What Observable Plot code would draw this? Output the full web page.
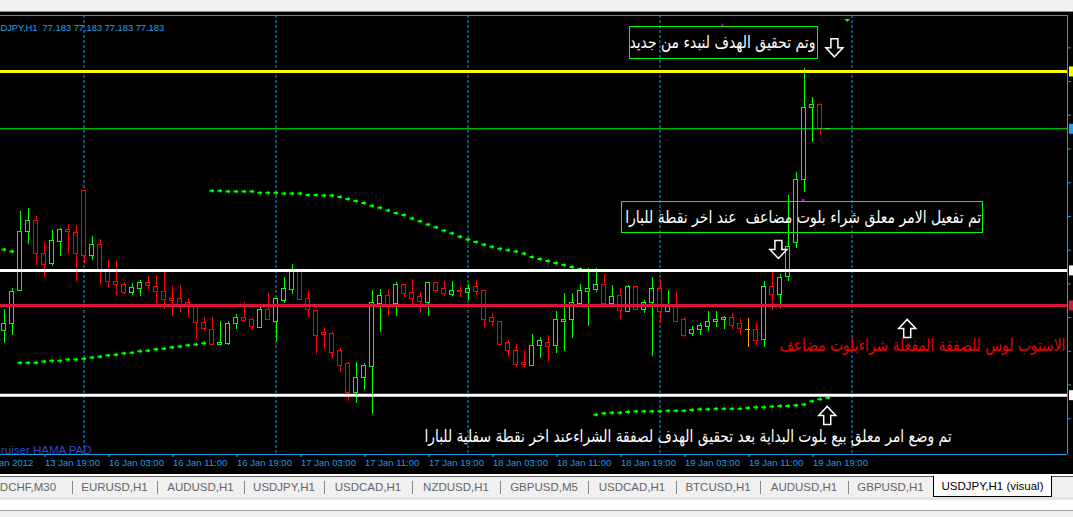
<!DOCTYPE html>
<html>
<head>
<meta charset="utf-8">
<script src="https://cdn.jsdelivr.net/npm/d3@7"></script>
<script src="https://cdn.jsdelivr.net/npm/@observablehq/plot@0.6"></script>
<style>
  html, body { margin: 0; padding: 0; width: 1073px; height: 517px; overflow: hidden; background: #f0f0f0; }
  #titlebar { position: absolute; left: 0; top: 0; width: 1073px; height: 11px; background: #f0f0f0; border-bottom: 1px solid #8c8c8c; }
  #chart { position: absolute; left: 0; top: 12px; width: 1073px; height: 462px; background: #000; }
  #chart svg { display: block; }
  #tabs { position: absolute; left: 0; top: 474px; width: 1073px; height: 43px; background: #f0f0f0; font-family: "Liberation Sans", Arial, sans-serif; }
  #tabs .edge1 { position: absolute; left: 0; top: 0; width: 1073px; height: 2px; background: #ffffff; }
  #tabs .edge2 { position: absolute; left: 0; top: 2px; width: 1073px; height: 1px; background: #5a5a5a; }
  #tabs .row { position: absolute; left: 0; top: 3px; width: 1073px; height: 20px; background: #f0f0f0; }
  #tabs .under { position: absolute; left: 0; top: 23px; width: 1073px; height: 3px; background: #e4e4e4; }
  #tabs .white { position: absolute; left: 0; top: 26px; width: 1073px; height: 10px; background: #ffffff; border-bottom: 1px solid #a8a8a8; }
  #tabs .tab { position: absolute; top: 3px; height: 20px; line-height: 20px; font-size: 11.5px; color: #666; text-align: center; white-space: nowrap; }
  #tabs .sep { position: absolute; top: 7px; width: 1px; height: 13px; background: #8a8a8a; }
  #tabs .active { position: absolute; top: 2px; height: 20px; line-height: 20px; font-size: 11.5px; color: #000; background: #fff; border: 1px solid #000; border-top: none; text-align: center; white-space: nowrap; }
</style>
</head>
<body>
<div id="titlebar"></div>
<div id="chart"></div>
<div id="tabs">
  <div class="edge1"></div><div class="edge2"></div><div class="row"></div><div class="under"></div><div class="white"></div>
</div>
<script>
// USDJPY H1 candles, bar 0 = 13 Jan 2012 14:00; last bar just opened.
const open = [76.883, 76.893, 76.942, 77.030, 77.047, 76.998, 76.982, 77.015, 77.033, 77.029,
  77.091, 76.994, 77.011, 76.970, 76.956, 76.952, 76.939, 76.946, 76.955, 76.949,
  76.941, 76.930, 76.930, 76.924, 76.919, 76.895, 76.885, 76.863, 76.864, 76.893,
  76.903, 76.899, 76.888, 76.914, 76.896, 76.928, 76.944, 76.971, 76.930, 76.913,
  76.880, 76.878, 76.853, 76.834, 76.791, 76.813, 76.830, 76.923, 76.935, 76.923,
  76.951, 76.939, 76.933, 76.925, 76.954, 76.945, 76.936, 76.943, 76.939, 76.948,
  76.942, 76.902, 76.897, 76.865, 76.854, 76.835, 76.831, 76.861, 76.866, 76.861,
  76.897, 76.899, 76.923, 76.941, 76.944, 76.952, 76.923, 76.935, 76.912, 76.949,
  76.914, 76.924, 76.946, 76.912, 76.921, 76.899, 76.878, 76.884, 76.889, 76.896,
  76.900, 76.903, 76.894, 76.885, 76.884, 76.870, 76.949, 76.936, 76.963, 77.013,
  77.107, 77.214, 77.218, 77.183];
const high = [76.915, 76.946, 77.060, 77.065, 77.053, 77.014, 77.032, 77.035, 77.041, 77.040,
  77.091, 77.023, 77.019, 76.988, 76.986, 76.955, 76.953, 76.958, 76.964, 76.966,
  76.970, 76.949, 76.951, 76.932, 76.919, 76.903, 76.903, 76.897, 76.897, 76.908,
  76.926, 76.902, 76.919, 76.939, 76.930, 76.963, 76.982, 76.973, 76.943, 76.913,
  76.888, 76.881, 76.857, 76.836, 76.837, 76.835, 76.943, 76.945, 76.945, 76.955,
  76.952, 76.960, 76.940, 76.955, 76.955, 76.957, 76.957, 76.949, 76.952, 76.958,
  76.942, 76.909, 76.897, 76.869, 76.863, 76.854, 76.878, 76.873, 76.877, 76.912,
  76.939, 76.939, 76.952, 76.976, 76.976, 76.967, 76.951, 76.946, 76.951, 76.949,
  76.929, 76.963, 76.960, 76.943, 76.942, 76.903, 76.890, 76.894, 76.912, 76.912,
  76.905, 76.909, 76.901, 76.901, 76.896, 76.956, 76.970, 76.967, 77.084, 77.118,
  77.273, 77.229, 77.221, 77.183];
const low = [76.864, 76.877, 76.941, 77.012, 76.980, 76.963, 76.979, 76.993, 76.997, 76.957,
  76.983, 76.987, 76.950, 76.948, 76.936, 76.937, 76.936, 76.935, 76.943, 76.924,
  76.915, 76.905, 76.911, 76.901, 76.871, 76.882, 76.862, 76.863, 76.862, 76.886,
  76.896, 76.884, 76.888, 76.899, 76.867, 76.924, 76.937, 76.928, 76.902, 76.848,
  76.856, 76.842, 76.821, 76.778, 76.776, 76.795, 76.760, 76.881, 76.904, 76.904,
  76.933, 76.923, 76.911, 76.905, 76.941, 76.936, 76.934, 76.933, 76.929, 76.936,
  76.889, 76.890, 76.862, 76.844, 76.829, 76.829, 76.831, 76.843, 76.836, 76.850,
  76.852, 76.872, 76.921, 76.890, 76.940, 76.923, 76.921, 76.900, 76.911, 76.914,
  76.909, 76.846, 76.894, 76.912, 76.897, 76.874, 76.875, 76.877, 76.883, 76.889,
  76.885, 76.886, 76.877, 76.859, 76.862, 76.859, 76.914, 76.916, 76.957, 77.005,
  77.089, 77.162, 77.173, 77.183];
const close = [76.894, 76.941, 77.030, 77.047, 76.998, 76.981, 77.016, 77.033, 77.030, 76.997,
  76.995, 77.011, 76.974, 76.956, 76.952, 76.939, 76.947, 76.955, 76.950, 76.941,
  76.929, 76.928, 76.922, 76.922, 76.895, 76.886, 76.862, 76.865, 76.894, 76.903,
  76.898, 76.889, 76.915, 76.899, 76.930, 76.946, 76.971, 76.929, 76.915, 76.876,
  76.877, 76.851, 76.831, 76.791, 76.813, 76.831, 76.924, 76.935, 76.918, 76.951,
  76.938, 76.930, 76.926, 76.954, 76.943, 76.938, 76.943, 76.941, 76.945, 76.941,
  76.899, 76.896, 76.862, 76.853, 76.833, 76.833, 76.861, 76.868, 76.859, 76.899,
  76.900, 76.924, 76.942, 76.946, 76.952, 76.923, 76.933, 76.913, 76.949, 76.915,
  76.924, 76.946, 76.912, 76.921, 76.897, 76.875, 76.885, 76.891, 76.897, 76.900,
  76.903, 76.891, 76.886, 76.885, 76.868, 76.949, 76.937, 76.962, 77.008, 77.107,
  77.214, 77.219, 77.183, 77.183];

// Parabolic SAR, one value per bar (null where none is plotted)
const sar = [77.004, 77.001, 76.836, 76.836, 76.836, 76.838, 76.839, 76.839, 76.841, 76.841,
  76.842, 76.844, 76.845, 76.847, 76.848, 76.850, 76.851, 76.853, 76.854, 76.856,
  76.857, 76.859, 76.860, 76.862, 76.863, 76.865, 77.091, 77.091, 77.090, 77.090,
  77.090, 77.090, 77.088, 77.088, 77.088, 77.087, 77.087, 77.087, 77.085, 77.085,
  77.084, 77.084, 77.082, 77.079, 77.076, 77.073, 77.069, 77.066, 77.062, 77.058,
  77.055, 77.050, 77.046, 77.041, 77.037, 77.032, 77.028, 77.023, 77.019, 77.015,
  77.011, 77.008, 77.005, 77.003, 77.001, 76.998, 76.993, 76.990, 76.987, 76.984,
  76.981, 76.978, 76.975, null, 76.759, 76.761, 76.762, 76.762, 76.763, 76.764,
  76.764, 76.764, 76.764, 76.765, 76.765, 76.765, 76.766, 76.767, 76.767, 76.768,
  76.768, 76.768, 76.768, 76.769, 76.770, 76.770, 76.771, 76.772, 76.772, 76.773,
  76.774, 76.779, 76.782, 76.784];

// Horizontal price levels: take profit, bid, pending entries, stop loss
const levelPrices = [77.268, 77.183, 76.973, 76.921, 76.788];
const levelColors = ["#ffff00", "#00ff00", "#ffffff", "#dc143c", "#ffffff"];
const levelWidths = [3, 1, 3, 3, 3];
const markerColors = ["#ffff00", "#1ea6ec", "#ffffff", "#dc143c", "#ffffff"];

// Time axis
const timeTickBars = [-3, 5, 13, 21, 29, 37, 45, 53, 61, 69, 77, 85, 93, 101];
const timeTickLabels = ["13 Jan 2012", "13 Jan 19:00", "16 Jan 03:00", "16 Jan 11:00", "16 Jan 19:00",
  "17 Jan 03:00", "17 Jan 11:00", "17 Jan 19:00", "18 Jan 03:00", "18 Jan 11:00",
  "18 Jan 19:00", "19 Jan 03:00", "19 Jan 11:00", "19 Jan 19:00"];
const dayGridBars = [10, 34, 58, 82, 106];
const priceTicks = [77.303, 77.253, 77.203, 77.153, 77.103, 77.053, 77.003, 76.953, 76.903, 76.853, 76.803, 76.753];

// Chart objects: notes, their frames and arrows
const noteTexts = [
  "وتم تحقيق الهدف لنبدء من جديد",
  "تم تفعيل الامر معلق شراء بلوت مضاعف\u00a0 عند اخر نقطة للبارا",
  "الاستوب لوس للصفقة المفعلة شراءبلوت مضاعف",
  "تم وضع امر معلق بيع بلوت البداية بعد تحقيق الهدف لصفقة الشراءعند اخر نقطة سفلية للبارا"
];
const noteBars = [89.8, 99.9, 114.8, 85.5];
const notePrices = [77.311, 77.052, 76.861, 76.727];
const noteColors = ["#ffffff", "#ffffff", "#f00000", "#ffffff"];
const frameBar1 = [78.2, 77.3];
const frameBar2 = [101.7, 122.4];
const framePrice1 = [77.287, 77.029];
const framePrice2 = [77.334, 77.075];
const arrowDirs = ["down", "down", "up", "up"];
const arrowBars = [103.8, 96.8, 112.9, 102.9];
const arrowPrices = [77.303, 77.004, 76.887, 76.758];
const anchorBars = [89.8, 99.9];
const anchorPrices = [77.336, 77.077];

const tabNames = ["USDCHF,M30", "EURUSD,H1", "AUDUSD,H1", "USDJPY,H1", "USDCAD,H1", "NZDUSD,H1",
  "GBPUSD,M5", "USDCAD,H1", "BTCUSD,H1", "AUDUSD,H1", "GBPUSD,H1"];
const activeTab = "USDJPY,H1 (visual)";

// ---- build records
const candles = open.map((o, i) => ({
  i, o, h: high[i], l: low[i], c: close[i],
  color: close[i] > o ? "#00ff00" : close[i] < o ? "#ff0000" : "#ffa500"
}));
const bodies = candles.filter(d => d.o !== d.c);
const dojis = candles.filter(d => d.o === d.c);
const sarPts = sar.map((v, i) => ({i, v})).filter(d => d.v != null);
const levels = levelPrices.map((p, k) => ({p, color: levelColors[k], w: levelWidths[k], marker: markerColors[k]}));
const notes = noteTexts.map((t, k) => ({t, x: noteBars[k], y: notePrices[k], color: noteColors[k]}));
const frames = frameBar1.map((x1, k) => ({x1, x2: frameBar2[k], y1: framePrice1[k], y2: framePrice2[k]}));
const arrows = arrowDirs.map((dir, k) => ({dir, x: arrowBars[k], y: arrowPrices[k]}));
const anchors = anchorBars.map((x, k) => ({x, y: anchorPrices[k]}));
const tickLabel = new Map(timeTickBars.map((b, k) => [b, timeTickLabels[k]]));
const last = open.length - 1;
const header = `USDJPY,H1\u00a0\u00a0${open[last].toFixed(3)} ${high[last].toFixed(3)} ${low[last].toFixed(3)} ${close[last].toFixed(3)}`;

const xDomain = [-0.4375, 132.9375];
const yDomain = [76.700, 77.351];

// marker shapes
const sarArrow = {
  draw(ctx) {
    ctx.moveTo(-2.5, -1); ctx.lineTo(0, -1); ctx.lineTo(0, -2.2); ctx.lineTo(2.6, 0);
    ctx.lineTo(0, 2.2); ctx.lineTo(0, 1); ctx.lineTo(-2.5, 1); ctx.closePath();
  }
};
const hollowArrow = s => ({
  draw(ctx) {
    ctx.moveTo(-3.5, -9 * s); ctx.lineTo(3.5, -9 * s); ctx.lineTo(3.5, 0); ctx.lineTo(8.5, 0);
    ctx.lineTo(0, 9 * s); ctx.lineTo(-8.5, 0); ctx.lineTo(-3.5, 0); ctx.closePath();
  }
});
const downArrow = hollowArrow(1);
const upArrow = hollowArrow(-1);
const priceTag = { draw(ctx) { ctx.rect(-2.5, -5, 5, 10); } };
const shiftMark = { draw(ctx) { ctx.moveTo(-3, -1.5); ctx.lineTo(3, -1.5); ctx.lineTo(0, 1.5); ctx.closePath(); } };
const blue = "#1e9de3";

const chart = Plot.plot({
  width: 1073,
  height: 462,
  marginTop: 3,
  marginBottom: 20,
  marginLeft: 0,
  marginRight: 6,
  style: { background: "#000", color: blue, fontFamily: "'Liberation Sans', Arial, sans-serif" },
  x: { domain: xDomain, axis: null },
  y: { domain: yDomain, axis: null },
  marks: [
    // day separators
    Plot.ruleX(dayGridBars, { stroke: blue, strokeDasharray: "3,2" }),
    // candles
    Plot.ruleX(candles, { x: "i", y1: "l", y2: "h", stroke: "color", shapeRendering: "crispEdges" }),
    Plot.rect(bodies, {
      x1: d => d.i - 0.25, x2: d => d.i + 0.25,
      y1: d => Math.min(d.o, d.c), y2: d => Math.max(d.o, d.c),
      fill: "#000", stroke: "color", shapeRendering: "crispEdges"
    }),
    Plot.ruleY(dojis, { y: "o", x1: d => d.i - 0.3, x2: d => d.i + 0.3, stroke: "color", shapeRendering: "crispEdges" }),
    // parabolic SAR
    Plot.dot(sarPts, { x: "i", y: "v", symbol: sarArrow, fill: "#00ff00", stroke: "none", r: 3 }),
    // price levels
    Plot.ruleY(levels, { y: "p", stroke: "color", strokeWidth: "w" }),
    // frame: top, right, bottom
    Plot.ruleY([yDomain[1]], { stroke: blue }),
    Plot.ruleX([xDomain[1]], { stroke: blue }),
    Plot.ruleY([yDomain[0]], { stroke: blue }),
    Plot.axisX(timeTickBars, {
      anchor: "bottom", tickSize: 3, tickPadding: 2, textAnchor: "start", dx: 1,
      tickFormat: d => tickLabel.get(d), fontSize: 9.5, label: null
    }),
    Plot.axisY(priceTicks, { anchor: "right", tickSize: 3, tickFormat: () => "", label: null }),
    // level tags on the price scale
    Plot.dot(levels, { x: () => xDomain[1], y: "p", dx: 4, symbol: priceTag, fill: "marker", stroke: "none" }),
    // chart shift marker
    Plot.dot([105.4], { x: d => d, y: () => yDomain[1], dy: 5, symbol: shiftMark, fill: "#00ff00", stroke: "none" }),
    // note frames, notes, arrows
    Plot.rect(frames, { x1: "x1", x2: "x2", y1: "y1", y2: "y2", fill: "none", stroke: "#00ff00", shapeRendering: "crispEdges" }),
    Plot.text(notes, { x: "x", y: "y", text: "t", fill: "color", fontSize: 17, fontFamily: "'DejaVu Sans', sans-serif" }),
    Plot.dot(arrows.filter(d => d.dir === "down"), { x: "x", y: "y", symbol: downArrow, fill: "#000", stroke: "#fff", strokeWidth: 1.5 }),
    Plot.dot(arrows.filter(d => d.dir === "up"), { x: "x", y: "y", symbol: upArrow, fill: "#000", stroke: "#fff", strokeWidth: 1.5 }),
    Plot.dot(anchors, { x: "x", y: "y", symbol: "square", r: 1.2, fill: "#ff00ff", stroke: "none" }),
    // header and expert name
    Plot.text([header], { frameAnchor: "top-left", text: d => d, textAnchor: "start", dx: -13, dy: 9, fontSize: 9.3, fill: "#1ea6ec" }),
    Plot.text(["Cruiser HAMA PAD"], { frameAnchor: "bottom-left", text: d => d, textAnchor: "end", dx: 91, dy: -1, fontSize: 11.5, fill: "#3148c8" })
  ]
});
document.getElementById("chart").appendChild(chart);

// fit the note texts to the widths of their objects
const noteWidths = [186, 356, 286, 527];
d3.select(chart).selectAll("text").each(function () {
  const k = noteTexts.indexOf(this.textContent);
  if (k >= 0) d3.select(this).attr("textLength", noteWidths[k]).attr("lengthAdjust", "spacingAndGlyphs");
});

// terminal tab strip
const tabs = document.getElementById("tabs");
const seps = [72, 157, 244, 324, 412, 500, 588, 676, 760, 848];
const centers = [20, 114.5, 200.5, 284, 368, 456, 544, 632, 718, 804, 890.5];
tabNames.forEach((name, k) => {
  const el = document.createElement("div");
  el.className = "tab";
  el.textContent = name;
  el.style.left = (centers[k] - 50) + "px";
  el.style.width = "100px";
  tabs.appendChild(el);
});
seps.forEach(x => {
  const s = document.createElement("div");
  s.className = "sep";
  s.style.left = x + "px";
  tabs.appendChild(s);
});
const act = document.createElement("div");
act.className = "active";
act.textContent = activeTab;
act.style.left = "933px";
act.style.width = "117px";
tabs.appendChild(act);
</script>
</body>
</html>
